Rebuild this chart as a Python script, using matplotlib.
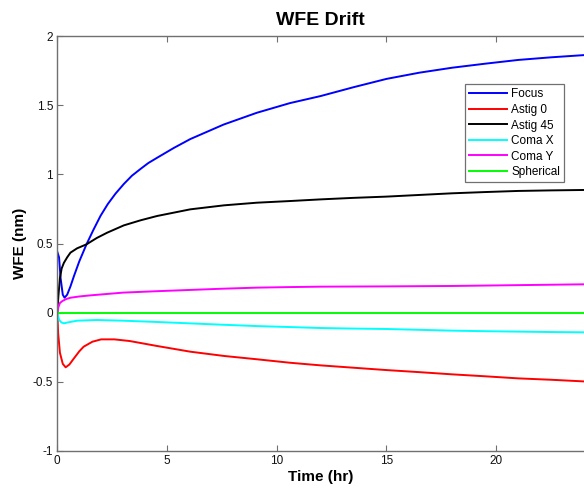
import matplotlib
matplotlib.use("Agg")
import matplotlib.pyplot as plt

plt.rcParams['font.family'] = ['Liberation Sans', 'DejaVu Sans']

# Focus
t_focus = [0, 0.08, 0.15, 0.25, 0.33, 0.45, 0.6, 0.76, 1.0, 1.33, 1.65, 1.97, 2.3, 2.65,
           3.03, 3.4, 3.8, 4.15, 4.55, 5.3, 6.06, 7.58, 9.09, 10.6, 12.0, 13.5, 15.0,
           16.5, 18.0, 19.5, 21.0, 22.5, 24.0]
focus = [0.44, 0.40, 0.25, 0.13, 0.108, 0.13, 0.19, 0.265, 0.37, 0.494, 0.60, 0.70,
         0.785, 0.86, 0.93, 0.99, 1.04, 1.082, 1.12, 1.19, 1.255, 1.36, 1.445, 1.515,
         1.566, 1.63, 1.69, 1.735, 1.771, 1.80, 1.827, 1.846, 1.862]

# Astig 0
t_astig0 = [0, 0.04, 0.12, 0.25, 0.38, 0.55, 0.76, 1.0, 1.2, 1.6, 2.0, 2.6, 3.3, 4.55,
            6.06, 7.6, 9.1, 10.6, 12.0, 13.5, 15.0, 16.5, 18.0, 19.5, 21.0, 22.5, 24.0]
astig0 = [0.0, -0.15, -0.29, -0.37, -0.395, -0.375, -0.33, -0.28, -0.246, -0.21, -0.193,
          -0.193, -0.205, -0.241, -0.282, -0.313, -0.337, -0.362, -0.381, -0.398, -0.415,
          -0.43, -0.446, -0.46, -0.475, -0.485, -0.497]

# Astig 45
t_astig45 = [0, 0.05, 0.12, 0.2, 0.3, 0.45, 0.6, 0.9, 1.33, 1.8, 2.27, 3.03, 3.8, 4.55,
             6.06, 7.6, 9.09, 10.6, 12.0, 13.5, 15.0, 16.5, 18.0, 19.5, 21.0, 22.5, 24.0]
astig45 = [0.0, 0.12, 0.25, 0.32, 0.36, 0.40, 0.434, 0.465, 0.494, 0.54, 0.578, 0.631,
           0.668, 0.699, 0.747, 0.776, 0.795, 0.807, 0.819, 0.83, 0.839, 0.851, 0.863,
           0.872, 0.88, 0.884, 0.887]

# Coma X
t_comax = [0, 0.08, 0.18, 0.3, 0.5, 0.9, 1.8, 3.0, 4.5, 6.0, 7.5, 9.1, 10.6, 12.0, 13.5,
           15.0, 16.5, 18.0, 19.5, 21.0, 22.5, 24.0]
comax = [0.0, -0.05, -0.07, -0.077, -0.07, -0.058, -0.053, -0.058, -0.067, -0.077,
         -0.087, -0.097, -0.104, -0.111, -0.115, -0.118, -0.124, -0.13, -0.134, -0.137,
         -0.14, -0.142]

# Coma Y
t_comay = [0, 0.05, 0.12, 0.23, 0.4, 0.6, 1.0, 1.5, 3.0, 4.5, 6.0, 7.5, 9.1, 10.6, 12.0,
           15.0, 18.0, 21.0, 24.0]
comay = [0.0, 0.04, 0.07, 0.084, 0.098, 0.108, 0.117, 0.125, 0.145, 0.155, 0.164, 0.173,
         0.181, 0.185, 0.188, 0.19, 0.193, 0.199, 0.205]

# Spherical
t_sph = [0, 24.0]
sph = [0.0, 0.0]

series = [
    ("Focus", t_focus, focus, (0, 0, 1)),
    ("Astig 0", t_astig0, astig0, (1, 0, 0)),
    ("Astig 45", t_astig45, astig45, (0, 0, 0)),
    ("Coma X", t_comax, comax, (0, 1, 1)),
    ("Coma Y", t_comay, comay, (1, 0, 1)),
    ("Spherical", t_sph, sph, (0, 1, 0)),
]

x_ticks = [0, 5, 10, 15, 20]
y_ticks = [-1, -0.5, 0, 0.5, 1, 1.5, 2]
y_ticklabels = ["-1", "-0.5", "0", "0.5", "1", "1.5", "2"]

fig = plt.figure(figsize=(5.84, 4.90), dpi=100)
ax = fig.add_axes([0.0981, 0.0796, 0.9019, 0.8469])

for name, t, v, c in series:
    ax.plot(t, v, color=c, lw=1.4, label=name)

ax.set_xlim(0, 24)
ax.set_ylim(-1, 2)
ax.set_xticks(x_ticks)
ax.set_xticklabels([str(v) for v in x_ticks])
ax.set_yticks(y_ticks)
ax.set_yticklabels(y_ticklabels)

axis_col = '#707070'
for s in ax.spines.values():
    s.set_color(axis_col)
    s.set_linewidth(1.0)
ax.spines['right'].set_visible(False)
ax.tick_params(direction='in', length=4, width=0.8, color=axis_col, top=True,
               right=False, labelsize=8.5, labelcolor='#111111', pad=3)

ax.set_title("WFE Drift", fontsize=14, fontweight='bold', pad=8)
ax.set_xlabel("Time (hr)", fontsize=11, fontweight='bold', labelpad=2)
ax.set_ylabel("WFE (nm)", fontsize=11, fontweight='bold', labelpad=4)

leg = ax.legend(loc='upper right', bbox_to_anchor=(0.9626, 0.8836), borderaxespad=0,
                fontsize=8.5, handlelength=3.2, labelspacing=0.3, handletextpad=0.4,
                borderpad=0.35, fancybox=False, framealpha=1, edgecolor='#707070')
leg.get_frame().set_linewidth(0.9)

fig.savefig("out.png", dpi=100)
